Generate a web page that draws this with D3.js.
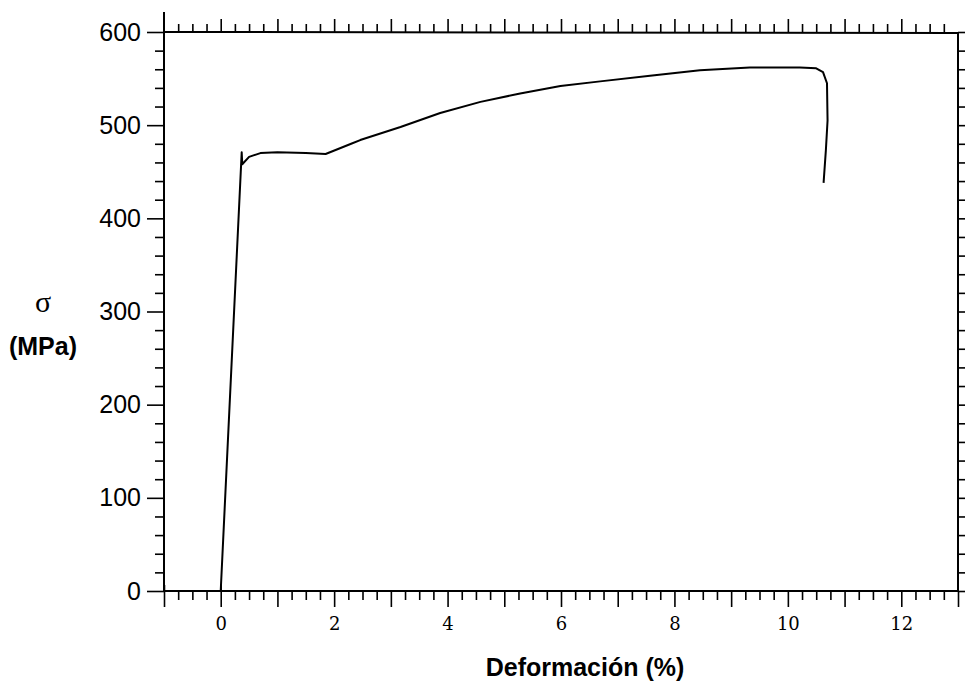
<!DOCTYPE html>
<meta charset="utf-8">
<style>

body {
  margin: 0;
  background: #fff;
}

.axis path {
  display: none;
}

.axis line {
  stroke: #000;
  stroke-width: 1.6px;
}

.ylab text {
  font-family: "Liberation Sans", Arial, sans-serif;
  font-size: 25px;
}

.xlab text {
  font-family: "DejaVu Serif", serif;
  font-size: 18px;
}

.curve {
  fill: none;
  stroke: #000;
  stroke-width: 2px;
  stroke-linejoin: round;
}

</style>
<svg width="969" height="697"></svg>
<script src="https://d3js.org/d3.v7.min.js"></script>
<script>

// strain (%) and stress (MPa)
var strain = [0, 0.37, 0.38, 0.5, 0.7, 1.0, 1.5, 1.85, 2.3, 2.46, 3.17, 3.87, 4.58, 5.28, 5.99, 6.69, 7.57, 8.45, 9.33, 10.21, 10.5, 10.62, 10.69, 10.7, 10.67, 10.63],
    stress = [0, 471, 458, 466, 470, 471, 470, 469, 480, 484, 498, 513, 525, 534, 542, 547, 553, 559, 562, 562, 561, 557, 545, 505, 473, 438];

var xTickLabels = [0, 2, 4, 6, 8, 10, 12],
    yTickLabels = [0, 100, 200, 300, 400, 500, 600];

var svg = d3.select("svg");

var x = d3.scaleLinear().domain([-1, 13]).range([164, 958]),
    y = d3.scaleLinear().domain([0, 600]).range([591, 32]);

var xMinor = d3.range(-1, 13.001, 0.25).filter(function(d) { return d % 1 !== 0; }),
    xMajor = d3.range(-1, 13.001, 1),
    yMinor = d3.range(0, 601, 20).filter(function(d) { return d % 100 !== 0; });

function tickGroup(axis, tx, ty) {
  return svg.append("g")
      .attr("class", "axis")
      .attr("transform", "translate(" + tx + "," + ty + ")")
      .call(axis);
}

// bottom
tickGroup(d3.axisBottom(x).tickValues(xMinor).tickSize(9).tickFormat(""), 0, y(0));
tickGroup(d3.axisBottom(x).tickValues(xMajor).tickSize(16).tickFormat(""), 0, y(0));
tickGroup(d3.axisTop(x).tickValues([-1, 0]).tickSize(6).tickFormat(""), 0, y(0));
tickGroup(d3.axisBottom(x).tickValues(xTickLabels).tickSize(0).tickPadding(26)
    .tickFormat(d3.format("d")), 0, y(0)).attr("class", "axis xlab");

// top
tickGroup(d3.axisTop(x).tickValues(xMinor).tickSize(8).tickFormat(""), 0, y(600));
tickGroup(d3.axisTop(x).tickValues(xMajor.filter(function(d) { return d > -1 && d < 13; })).tickSize(13).tickFormat(""), 0, y(600));

// left
tickGroup(d3.axisLeft(y).tickValues(yMinor).tickSize(9).tickFormat(""), x(-1), 0);
tickGroup(d3.axisLeft(y).tickValues(yTickLabels).tickSize(17).tickPadding(6)
    .tickFormat(d3.format("d")), x(-1), 0).attr("class", "axis ylab");

// right
tickGroup(d3.axisRight(y).tickValues(d3.range(0, 601, 20)).tickSize(7).tickFormat(""), x(13), 0);

// frame
var frame = svg.append("g")
    .attr("stroke", "#000")
    .attr("stroke-width", 2);

frame.append("line").attr("x1", x(-1)).attr("x2", x(13)).attr("y1", y(0)).attr("y2", y(0));
frame.append("line").attr("x1", x(-1)).attr("x2", x(13)).attr("y1", y(600)).attr("y2", y(600) + 1);
frame.append("line").attr("x1", x(-1)).attr("x2", x(-1)).attr("y1", y(0)).attr("y2", 12);
frame.append("line").attr("x1", x(13)).attr("x2", x(13)).attr("y1", y(0)).attr("y2", y(600));

// curve
var line = d3.line()
    .x(function(d, i) { return x(strain[i]); })
    .y(function(d, i) { return y(stress[i]); });

svg.append("path")
    .datum(strain)
    .attr("class", "curve")
    .attr("d", line);

// titles
svg.append("text")
    .attr("x", 585)
    .attr("y", 676)
    .attr("text-anchor", "middle")
    .style("font-family", "Liberation Sans, Arial, sans-serif")
    .style("font-weight", "bold")
    .style("font-size", "25px")
    .text("Deformación (%)");

svg.append("text")
    .attr("x", 43)
    .attr("y", 312)
    .attr("text-anchor", "middle")
    .style("font-family", "Liberation Serif, serif")
    .style("font-size", "30px")
    .text("σ");

svg.append("text")
    .attr("x", 43)
    .attr("y", 355)
    .attr("text-anchor", "middle")
    .style("font-family", "Liberation Sans, Arial, sans-serif")
    .style("font-weight", "bold")
    .style("font-size", "25px")
    .text("(MPa)");

</script>
